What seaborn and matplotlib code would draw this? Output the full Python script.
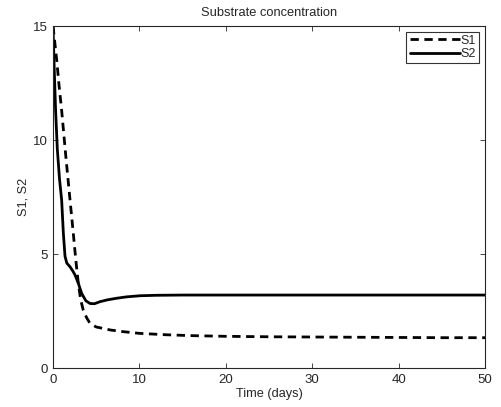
import seaborn as sns
import pandas as pd
import matplotlib.pyplot as plt

# values
t_s1 = [0, 0.2, 0.43, 0.7, 1.0, 1.47, 1.97, 2.35, 2.65, 2.93, 3.2, 3.5, 3.9, 4.28, 5.0, 6.6, 8.0, 10.0, 13.0, 16.0, 20.0, 25.0, 30.0, 35.0, 40.0, 45.0, 50.0]
s1 = [15.0, 14.3, 13.5, 12.4, 11.3, 9.34, 7.37, 5.9, 4.7, 3.71, 3.0, 2.54, 2.2, 1.96, 1.8, 1.67, 1.6, 1.52, 1.46, 1.42, 1.39, 1.37, 1.36, 1.35, 1.34, 1.33, 1.33]
t_s2 = [0, 0.15, 0.3, 0.5, 0.75, 1.0, 1.2, 1.39, 1.6, 1.97, 2.3, 2.55, 2.9, 3.32, 3.8, 4.28, 4.8, 5.44, 6.3, 7.37, 8.5, 10.07, 12.0, 15.0, 20.0, 30.0, 40.0, 50.0]
s2 = [15.0, 13.0, 11.3, 9.6, 8.3, 7.37, 5.9, 4.9, 4.6, 4.44, 4.25, 4.08, 3.75, 3.27, 2.95, 2.83, 2.82, 2.91, 2.99, 3.06, 3.12, 3.17, 3.19, 3.2, 3.2, 3.2, 3.2, 3.2]

df = pd.concat([
    pd.DataFrame({'t': t_s1, 'S': s1, 'series': 'S1'}),
    pd.DataFrame({'t': t_s2, 'S': s2, 'series': 'S2'}),
])

sns.set_style('ticks')
plt.rcParams['font.family'] = ['Liberation Sans', 'DejaVu Sans']
plt.rcParams['xtick.direction'] = 'in'
plt.rcParams['ytick.direction'] = 'in'

fig = plt.figure(figsize=(5.01, 4.07), dpi=100)
ax = fig.add_axes([0.1058, 0.0958, 0.8622, 0.8402])

sns.lineplot(data=df, x='t', y='S', style='series', color='black',
             dashes={'S1': (3, 2), 'S2': ''}, linewidth=2, ax=ax, sort=False)

ax.set_xlim(0, 50)
ax.set_ylim(0, 15)
ax.set_xticks([0, 10, 20, 30, 40, 50])
ax.set_yticks([0, 5, 10, 15])
ax.tick_params(top=True, right=True, labelsize=9.5, length=3.5, width=0.6, pad=4)
for spine in ax.spines.values():
    spine.set_visible(True)
    spine.set_linewidth(0.8)

ax.set_xlabel('Time (days)', fontsize=9.2, labelpad=2)
ax.set_ylabel('S1, S2', fontsize=9.2, labelpad=2)
ax.set_title('Substrate concentration', fontsize=9.3, pad=7)

leg = ax.legend(loc='upper right', fontsize=9, frameon=True, fancybox=False,
                edgecolor='black', handlelength=4.0, borderpad=0.25,
                labelspacing=0.1, handletextpad=0.1, borderaxespad=0.45)
leg.get_frame().set_linewidth(0.8)

plt.savefig('out.png', dpi=100)
